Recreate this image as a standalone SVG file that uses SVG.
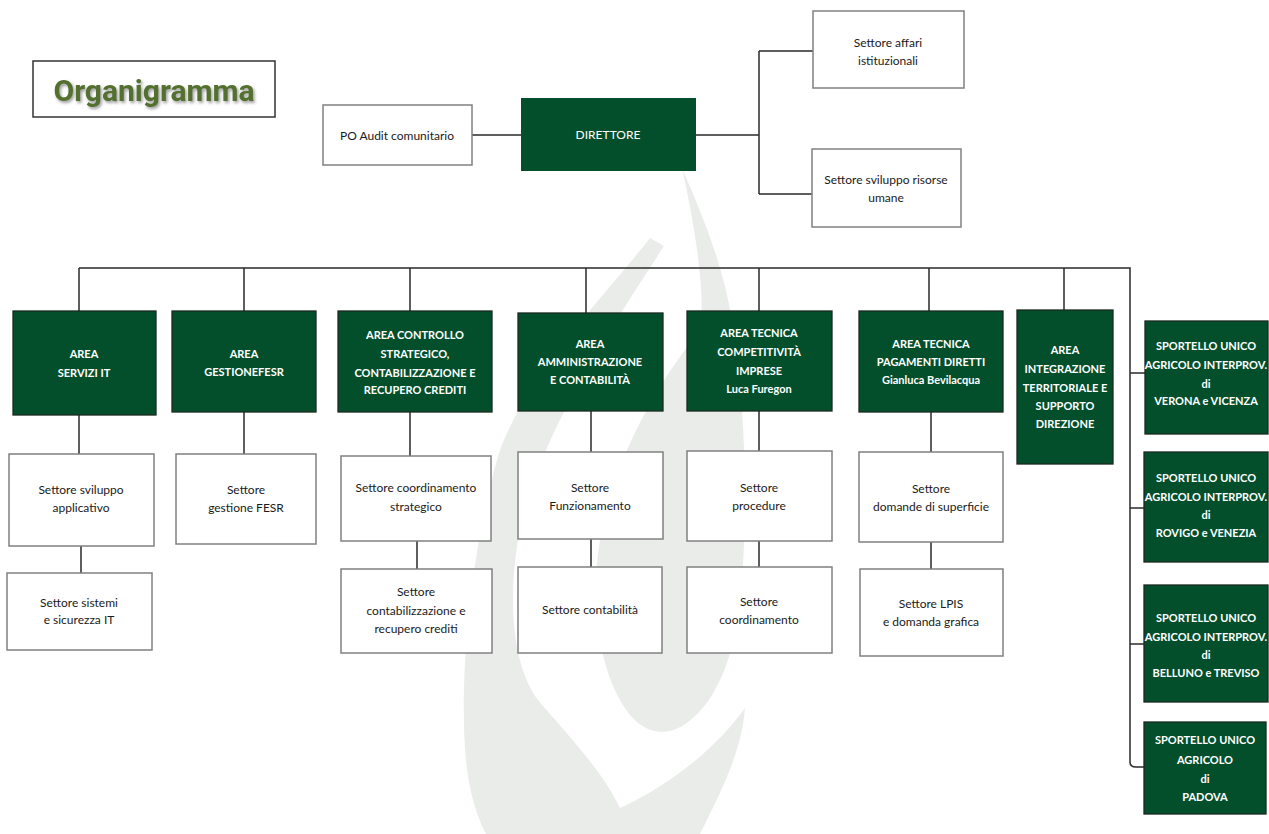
<svg xmlns="http://www.w3.org/2000/svg" width="1269" height="834" viewBox="0 0 1269 834">
<defs>
<filter id="sh" x="-10%" y="-30%" width="130%" height="170%">
<feDropShadow dx="1.5" dy="2" stdDeviation="1.6" flood-color="#6f6f6f" flood-opacity="0.7"/>
</filter>
<style>
.dk{fill:#034f2c;stroke:#1b2a20;stroke-width:1.3}
.wt{fill:#ffffff;stroke:#808080;stroke-width:1.5}
.ln{fill:none;stroke:#2a2a2a;stroke-width:1.5}
.tw{font-family:Lato,"Open Sans",sans-serif;font-size:11px;font-weight:bold;fill:#ffffff;text-anchor:middle}
.tb{font-family:Lato,"Open Sans",sans-serif;font-size:12px;fill:#1a1a1a;text-anchor:middle}
.wm{fill:#eaecea}
</style>
</defs>
<rect x="0" y="0" width="1269" height="834" fill="#ffffff"/>
<g id="watermark">
<path class="wm" d="M650,238 C610,290 530,370 500,450 C472,540 458,680 466,760 C470,800 480,822 486,834 L700,834 C722,790 742,750 745,708 C715,750 668,786 620,808 C602,770 565,732 538,700 C512,665 508,600 518,540 C535,440 610,330 664,246 Z"/>
<path class="wm" d="M682,168 C700,210 722,260 732,320 C745,400 748,500 742,580 C738,650 718,700 688,722 C662,742 636,730 620,700 C598,660 590,600 600,540 C612,460 660,380 700,330 C705,300 698,240 682,168 Z"/>
</g>
<g id="connectors">
<path class="ln" d="M472,135 H521"/>
<path class="ln" d="M696,135 H759 M759,51 V194 M759,51 H813 M759,194 H812"/>
<path class="ln" d="M79,268 H1130 V762 Q1130,767 1136,767 H1144"/>
<path class="ln" d="M1130,373 H1145 M1130,508 H1144 M1130,644 H1144"/>
<path class="ln" d="M79,268 V311 M244,268 V311 M410,268 V311 M586,268 V313 M759,268 V311 M929,268 V311 M1064,268 V310"/>
<path class="ln" d="M79,415 V454 M81,546 V573"/>
<path class="ln" d="M244,412 V454"/>
<path class="ln" d="M410,412 V456 M417,541 V569"/>
<path class="ln" d="M591,411 V452 M591,539 V567"/>
<path class="ln" d="M759,411 V451 M759,541 V567"/>
<path class="ln" d="M931,412 V452 M931,542 V569"/>
</g>
<g id="title">
<rect x="33" y="61" width="242" height="56" fill="#ffffff" stroke="#333333" stroke-width="1.5"/>
<text x="154" y="101" font-family="Roboto,'Liberation Sans',sans-serif" font-size="30" font-weight="bold" fill="#53702d" text-anchor="middle" filter="url(#sh)">Organigramma</text>
</g>
<g id="po-audit">
<rect class="wt" x="323" y="105" width="149" height="60"/>
<text class="tb" x="397" y="140">PO Audit comunitario</text>
</g>
<g id="direttore">
<rect x="521" y="98" width="175" height="73" fill="#034f2c"/>
<text x="608" y="139" font-family="Lato,'Open Sans',sans-serif" font-size="12" fill="#ffffff" text-anchor="middle">DIRETTORE</text>
</g>
<g id="affari">
<rect class="wt" x="813" y="11" width="151" height="77"/>
<text class="tb" x="888" y="47">Settore affari</text>
<text class="tb" x="888" y="65">istituzionali</text>
</g>
<g id="risorse">
<rect class="wt" x="812" y="149" width="149" height="78"/>
<text class="tb" x="886" y="184">Settore sviluppo risorse</text>
<text class="tb" x="886" y="202">umane</text>
</g>
<g id="area-servizi-it">
<rect class="dk" x="13" y="311" width="143" height="104"/>
<text class="tw" x="84" y="358">AREA</text>
<text class="tw" x="84" y="377">SERVIZI IT</text>
</g>
<g id="area-gestione-fesr">
<rect class="dk" x="172" y="311" width="144" height="101"/>
<text class="tw" x="244" y="358">AREA</text>
<text class="tw" x="244" y="376">GESTIONEFESR</text>
</g>
<g id="area-controllo">
<rect class="dk" x="338" y="311" width="154" height="101"/>
<text class="tw" x="415" y="339">AREA CONTROLLO</text>
<text class="tw" x="415" y="358">STRATEGICO,</text>
<text class="tw" x="415" y="377">CONTABILIZZAZIONE E</text>
<text class="tw" x="415" y="394">RECUPERO CREDITI</text>
</g>
<g id="area-amministrazione">
<rect class="dk" x="518" y="313" width="145" height="98"/>
<text class="tw" x="590" y="348">AREA</text>
<text class="tw" x="590" y="366">AMMINISTRAZIONE</text>
<text class="tw" x="590" y="384">E CONTABILITÀ</text>
</g>
<g id="area-competitivita">
<rect class="dk" x="687" y="311" width="145" height="100"/>
<text class="tw" x="759" y="337">AREA TECNICA</text>
<text class="tw" x="759" y="356">COMPETITIVITÀ</text>
<text class="tw" x="759" y="375">IMPRESE</text>
<text class="tw" x="759" y="393">Luca Furegon</text>
</g>
<g id="area-pagamenti">
<rect class="dk" x="859" y="311" width="144" height="101"/>
<text class="tw" x="931" y="348">AREA TECNICA</text>
<text class="tw" x="931" y="366">PAGAMENTI DIRETTI</text>
<text class="tw" x="931" y="384">Gianluca Bevilacqua</text>
</g>
<g id="area-integrazione">
<rect class="dk" x="1017" y="310" width="96" height="154"/>
<text class="tw" x="1065" y="354">AREA</text>
<text class="tw" x="1065" y="373">INTEGRAZIONE</text>
<text class="tw" x="1065" y="392">TERRITORIALE E</text>
<text class="tw" x="1065" y="410">SUPPORTO</text>
<text class="tw" x="1065" y="428">DIREZIONE</text>
</g>
<g id="sportello-verona">
<rect class="dk" x="1145" y="321" width="123" height="113"/>
<text class="tw" x="1206" y="350">SPORTELLO UNICO</text>
<text class="tw" x="1206" y="369">AGRICOLO INTERPROV.</text>
<text class="tw" x="1206" y="388">di</text>
<text class="tw" x="1206" y="405">VERONA e VICENZA</text>
</g>
<g id="sportello-rovigo">
<rect class="dk" x="1144" y="452" width="124" height="110"/>
<text class="tw" x="1206" y="482">SPORTELLO UNICO</text>
<text class="tw" x="1206" y="501">AGRICOLO INTERPROV.</text>
<text class="tw" x="1206" y="519">di</text>
<text class="tw" x="1206" y="537">ROVIGO e VENEZIA</text>
</g>
<g id="sportello-belluno">
<rect class="dk" x="1144" y="585" width="124" height="117"/>
<text class="tw" x="1206" y="622">SPORTELLO UNICO</text>
<text class="tw" x="1206" y="641">AGRICOLO INTERPROV.</text>
<text class="tw" x="1206" y="659">di</text>
<text class="tw" x="1206" y="677">BELLUNO e TREVISO</text>
</g>
<g id="sportello-padova">
<rect class="dk" x="1144" y="722" width="122" height="92"/>
<text class="tw" x="1205" y="744">SPORTELLO UNICO</text>
<text class="tw" x="1205" y="764">AGRICOLO</text>
<text class="tw" x="1205" y="783">di</text>
<text class="tw" x="1205" y="801">PADOVA</text>
</g>
<g id="settore-sviluppo-applicativo">
<rect class="wt" x="9" y="454" width="145" height="92"/>
<text class="tb" x="81" y="494">Settore sviluppo</text>
<text class="tb" x="81" y="512">applicativo</text>
</g>
<g id="settore-sistemi">
<rect class="wt" x="7" y="573" width="145" height="77"/>
<text class="tb" x="79" y="607">Settore sistemi</text>
<text class="tb" x="79" y="624">e sicurezza IT</text>
</g>
<g id="settore-gestione-fesr">
<rect class="wt" x="176" y="454" width="140" height="90"/>
<text class="tb" x="246" y="494">Settore</text>
<text class="tb" x="246" y="512">gestione FESR</text>
</g>
<g id="settore-coordinamento-strategico">
<rect class="wt" x="341" y="456" width="150" height="85"/>
<text class="tb" x="416" y="492">Settore coordinamento</text>
<text class="tb" x="416" y="511">strategico</text>
</g>
<g id="settore-contabilizzazione">
<rect class="wt" x="341" y="569" width="151" height="84"/>
<text class="tb" x="416" y="596">Settore</text>
<text class="tb" x="416" y="615">contabilizzazione e</text>
<text class="tb" x="416" y="633">recupero crediti</text>
</g>
<g id="settore-funzionamento">
<rect class="wt" x="518" y="452" width="145" height="87"/>
<text class="tb" x="590" y="492">Settore</text>
<text class="tb" x="590" y="510">Funzionamento</text>
</g>
<g id="settore-contabilita">
<rect class="wt" x="518" y="567" width="144" height="86"/>
<text class="tb" x="590" y="614">Settore contabilità</text>
</g>
<g id="settore-procedure">
<rect class="wt" x="687" y="451" width="145" height="90"/>
<text class="tb" x="759" y="492">Settore</text>
<text class="tb" x="759" y="510">procedure</text>
</g>
<g id="settore-coordinamento">
<rect class="wt" x="687" y="567" width="145" height="86"/>
<text class="tb" x="759" y="606">Settore</text>
<text class="tb" x="759" y="624">coordinamento</text>
</g>
<g id="settore-domande-superficie">
<rect class="wt" x="859" y="452" width="144" height="90"/>
<text class="tb" x="931" y="493">Settore</text>
<text class="tb" x="931" y="511">domande di superficie</text>
</g>
<g id="settore-lpis">
<rect class="wt" x="860" y="569" width="143" height="87"/>
<text class="tb" x="931" y="608">Settore LPIS</text>
<text class="tb" x="931" y="626">e domanda grafica</text>
</g>
</svg>
